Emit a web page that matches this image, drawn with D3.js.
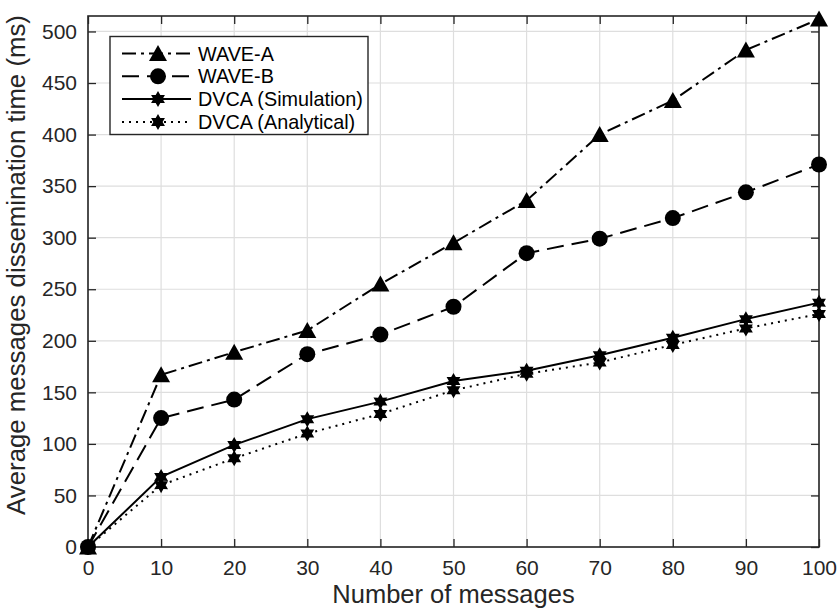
<!DOCTYPE html>
<html>
<head>
<meta charset="utf-8">
<script src="https://cdn.jsdelivr.net/npm/d3@7"></script>
<style>
  html, body { margin: 0; padding: 0; background: #fff; }
  svg { display: block; font-family: "Liberation Sans", Arial, Helvetica, sans-serif; }
</style>
</head>
<body>
<svg id="chart" width="838" height="608"></svg>
<script>
// Number of messages on the x axis
const messages = [0, 10, 20, 30, 40, 50, 60, 70, 80, 90, 100];

// Average dissemination time (ms) for each scheme
const waveA = [0, 167, 189, 210, 255, 295, 336, 400, 433, 482, 512];
const waveB = [0, 125, 143, 187, 206, 233, 285, 299, 319, 344, 371];
const dvcaSim = [0, 68, 99, 124, 141, 161, 171, 186, 203, 221, 237];
const dvcaAna = [0, 60, 86, 110, 129, 152, 168, 179, 196, 212, 226];

const seriesNames = ["WAVE-A", "WAVE-B", "DVCA (Simulation)", "DVCA (Analytical)"];
const xTicks = [0, 10, 20, 30, 40, 50, 60, 70, 80, 90, 100];
const yTicks = [0, 50, 100, 150, 200, 250, 300, 350, 400, 450, 500];

const xLabel = "Number of messages";
const yLabel = "Average messages dissemination time (ms)";

const series = [
  { name: seriesNames[0], values: waveA, dash: "14,5,3,5", marker: "triangle" },
  { name: seriesNames[1], values: waveB, dash: "17,8", marker: "circle" },
  { name: seriesNames[2], values: dvcaSim, dash: null, marker: "hexagram" },
  { name: seriesNames[3], values: dvcaAna, dash: "2,5", marker: "hexagram" }
];

const svg = d3.select("#chart");
const plotL = 88, plotR = 819, plotT = 16, plotB = 547;
const axisColor = "#262626";

const x = d3.scaleLinear().domain([0, 100]).range([plotL, plotR]);
const y = d3.scaleLinear().domain([0, 515]).range([plotB, plotT]);

// Grid
const grid = svg.append("g");
grid.selectAll("line.vg").data(xTicks).join("line")
  .attr("x1", d => x(d)).attr("x2", d => x(d))
  .attr("y1", plotT).attr("y2", plotB)
  .attr("stroke", "#dedede").attr("stroke-width", 1.2);
grid.selectAll("line.hg").data(yTicks).join("line")
  .attr("x1", plotL).attr("x2", plotR)
  .attr("y1", d => y(d)).attr("y2", d => y(d))
  .attr("stroke", "#dedede").attr("stroke-width", 1.2);

// Axes: ticks point inward on all four sides
const tickLen = 8;
const xAxisB = d3.axisBottom(x).tickValues(xTicks).tickSize(-tickLen).tickPadding(13);
const xAxisT = d3.axisTop(x).tickValues(xTicks).tickSize(-tickLen).tickFormat("");
const yAxisL = d3.axisLeft(y).tickValues(yTicks).tickSize(-tickLen).tickPadding(11);
const yAxisR = d3.axisRight(y).tickValues(yTicks).tickSize(-tickLen).tickFormat("");

function styleAxis(g) {
  g.select(".domain").remove();
  g.selectAll(".tick line").attr("stroke", axisColor).attr("stroke-width", 1.3);
  g.selectAll(".tick text").attr("fill", axisColor).attr("font-size", 21);
}
svg.append("g").attr("transform", `translate(0,${plotB})`).call(xAxisB).call(styleAxis);
svg.append("g").attr("transform", `translate(0,${plotT})`).call(xAxisT).call(styleAxis);
svg.append("g").attr("transform", `translate(${plotL},0)`).call(yAxisL).call(styleAxis);
svg.append("g").attr("transform", `translate(${plotR},0)`).call(yAxisR).call(styleAxis);

// Axis box
svg.append("rect")
  .attr("x", plotL).attr("y", plotT)
  .attr("width", plotR - plotL).attr("height", plotB - plotT)
  .attr("fill", "none").attr("stroke", axisColor).attr("stroke-width", 1.6);

// Marker shapes
function markerPath(kind) {
  if (kind === "triangle") {
    return "M0,-8.5L9,7.5L-9,7.5Z";
  }
  if (kind === "circle") {
    return d3.symbol(d3.symbolCircle, Math.PI * 8 * 8)();
  }
  // six-pointed star
  const R = 8, r = 4.6, pts = [];
  for (let i = 0; i < 12; i++) {
    const a = -Math.PI / 2 + i * Math.PI / 6;
    const rad = i % 2 === 0 ? R : r;
    pts.push([rad * Math.cos(a), rad * Math.sin(a)]);
  }
  return "M" + pts.map(p => p[0].toFixed(2) + "," + p[1].toFixed(2)).join("L") + "Z";
}

const line = d3.line().x((d, i) => x(messages[i])).y(d => y(d));

const plot = svg.append("g");
series.forEach(s => {
  plot.append("path")
    .attr("d", line(s.values))
    .attr("fill", "none")
    .attr("stroke", "#000")
    .attr("stroke-width", 2)
    .attr("stroke-dasharray", s.dash);
  plot.selectAll(null).data(s.values).join("path")
    .attr("d", markerPath(s.marker))
    .attr("transform", (d, i) => `translate(${x(messages[i])},${y(d)})`)
    .attr("fill", "#000");
});

// Legend
const lg = svg.append("g");
lg.append("rect")
  .attr("x", 110).attr("y", 36.5).attr("width", 258).attr("height", 98)
  .attr("fill", "#fff").attr("stroke", axisColor).attr("stroke-width", 1.4);
series.forEach((s, i) => {
  const cy = 53.5 + i * 22.8;
  lg.append("line")
    .attr("x1", 122).attr("x2", 191).attr("y1", cy).attr("y2", cy)
    .attr("stroke", "#000").attr("stroke-width", 2)
    .attr("stroke-dasharray", s.dash);
  lg.append("path")
    .attr("d", markerPath(s.marker))
    .attr("transform", `translate(158,${cy})`)
    .attr("fill", "#000");
  lg.append("text")
    .attr("x", 198).attr("y", cy).attr("dy", "0.36em")
    .attr("font-size", 19.8).attr("fill", "#000")
    .text(s.name);
});

// Axis titles
svg.append("text")
  .attr("x", (plotL + plotR) / 2).attr("y", 603)
  .attr("text-anchor", "middle").attr("font-size", 25.5).attr("fill", axisColor)
  .text(xLabel);
svg.append("text")
  .attr("transform", "translate(25,265) rotate(-90)")
  .attr("text-anchor", "middle").attr("font-size", 25.8).attr("fill", axisColor)
  .text(yLabel);
</script>
</body>
</html>
